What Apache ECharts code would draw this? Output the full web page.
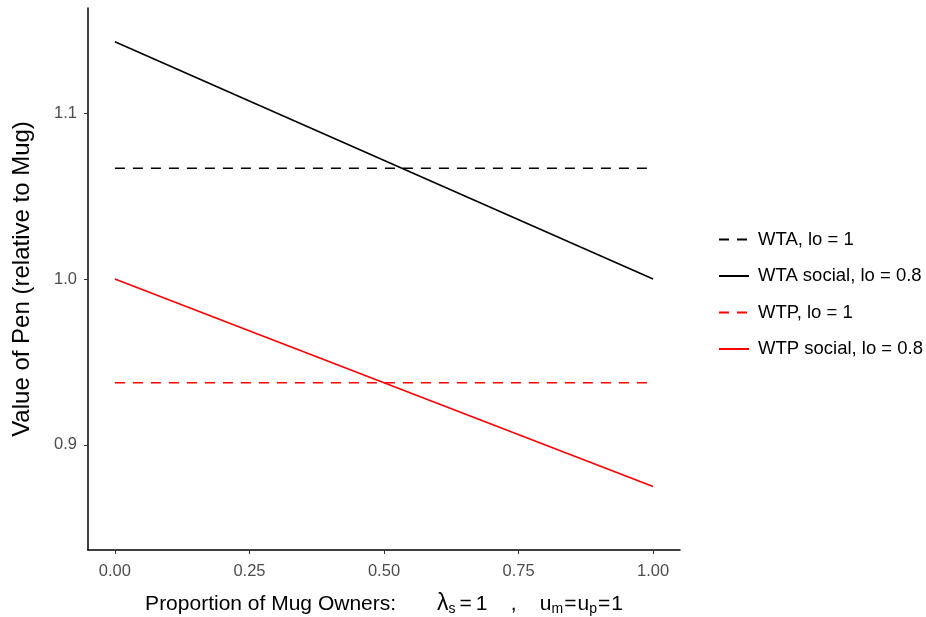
<!DOCTYPE html>
<html>
<head>
<meta charset="utf-8">
<script src="https://cdn.jsdelivr.net/npm/echarts@6/dist/echarts.min.js"></script>
<style>
  html, body { margin: 0; padding: 0; background: #fff; }
  #chart { width: 926px; height: 617px; }
</style>
</head>
<body>
<div id="chart"></div>
<script>
// Proportion of mug owners (x) at the two ends of each line
const ownerShare = [0, 1];

// Value of pen relative to mug for each scenario
const wtaBase   = [1.0667, 1.0667]; // WTA, lo = 1
const wtaSocial = [1.1429, 1.0];    // WTA social, lo = 0.8
const wtpBase   = [0.9375, 0.9375]; // WTP, lo = 1
const wtpSocial = [1.0, 0.875];     // WTP social, lo = 0.8

const seriesNames = ['WTA, lo = 1', 'WTA social, lo = 0.8', 'WTP, lo = 1', 'WTP social, lo = 0.8'];

const xTicks = [0, 0.25, 0.5, 0.75, 1];
const yTicks = [0.9, 1.0, 1.1];

const pairs = vals => ownerShare.map((x, i) => [x, vals[i]]);

function lineSeries(name, vals, color, dashed) {
  return {
    name: name,
    type: 'line',
    data: pairs(vals),
    symbol: 'none',
    silent: true,
    lineStyle: { color: color, width: 1.6, type: dashed ? [10, 8] : 'solid' },
    itemStyle: { color: color }
  };
}

const chart = echarts.init(document.getElementById('chart'));
const tickColor = '#4d4d4d';
const font = 'Liberation Sans, Arial, Helvetica, sans-serif';
const sp = n => ' '.repeat(n);

// x axis title with subscripts: "λ_s = 1 , u_m = u_p = 1"
const xTitle =
  '{t|Proportion of Mug Owners:' + sp(7) + '}' +
  '{l|λ}{s|s}{e1|=}{t|1' + sp(4) + ',' + sp(4) + 'u}' +
  '{s|m}{e2|=}{t|u}{s|p}{e2|=}{t|1}';

chart.setOption({
  animation: false,
  textStyle: { fontFamily: font },
  grid: { left: 88, right: 246, top: 8, bottom: 67, containLabel: false, outerBoundsMode: 'none' },
  xAxis: {
    type: 'value',
    min: -0.05,
    max: 1.05,
    splitLine: { show: false },
    axisLine: { show: true, onZero: false, lineStyle: { color: '#000', width: 1.5 } },
    axisTick: { show: true, length: 4, lineStyle: { color: '#333', width: 1 },
      customValues: xTicks },
    axisLabel: { color: tickColor, fontSize: 16.5, margin: 13, fontFamily: font,
      customValues: xTicks,
      formatter: v => v.toFixed(2) },
    name: xTitle,
    nameLocation: 'middle',
    nameGap: 42,
    nameTextStyle: {
      rich: {
        t: { fontSize: 21, color: '#000', fontFamily: font },
        l: { fontSize: 23, color: '#000', fontFamily: font },
        e1: { fontSize: 21, color: '#000', fontFamily: font, padding: [0, 4, 0, 4] },
        e2: { fontSize: 21, color: '#000', fontFamily: font, padding: [0, 1, 0, 1] },
        s: { fontSize: 14, color: '#000', fontFamily: font, verticalAlign: 'bottom', padding: [10, 0, 0, 0] }
      }
    }
  },
  yAxis: {
    type: 'value',
    min: 0.8367,
    max: 1.1633,
    splitLine: { show: false },
    axisLine: { show: true, onZero: false, lineStyle: { color: '#000', width: 1.5 } },
    axisTick: { show: true, length: 4, lineStyle: { color: '#333', width: 1 },
      customValues: yTicks },
    axisLabel: { color: tickColor, fontSize: 16.5, margin: 11, fontFamily: font,
      customValues: yTicks,
      formatter: v => v.toFixed(1) },
    name: 'Value of Pen (relative to Mug)',
    nameLocation: 'middle',
    nameGap: 54,
    nameTextStyle: { fontSize: 24, color: '#000', fontFamily: font }
  },
  legend: {
    orient: 'vertical',
    left: 713,
    top: 225,
    itemWidth: 30,
    itemHeight: 14,
    itemGap: 17.5,
    data: seriesNames,
    itemStyle: { opacity: 0 },
    textStyle: { fontSize: 18.5, color: '#000', fontFamily: font, padding: [0, 0, 0, 4] }
  },
  series: [
    lineSeries(seriesNames[0], wtaBase, '#000000', true),
    lineSeries(seriesNames[1], wtaSocial, '#000000', false),
    lineSeries(seriesNames[2], wtpBase, '#ff0000', true),
    lineSeries(seriesNames[3], wtpSocial, '#ff0000', false)
  ]
});
</script>
</body>
</html>
